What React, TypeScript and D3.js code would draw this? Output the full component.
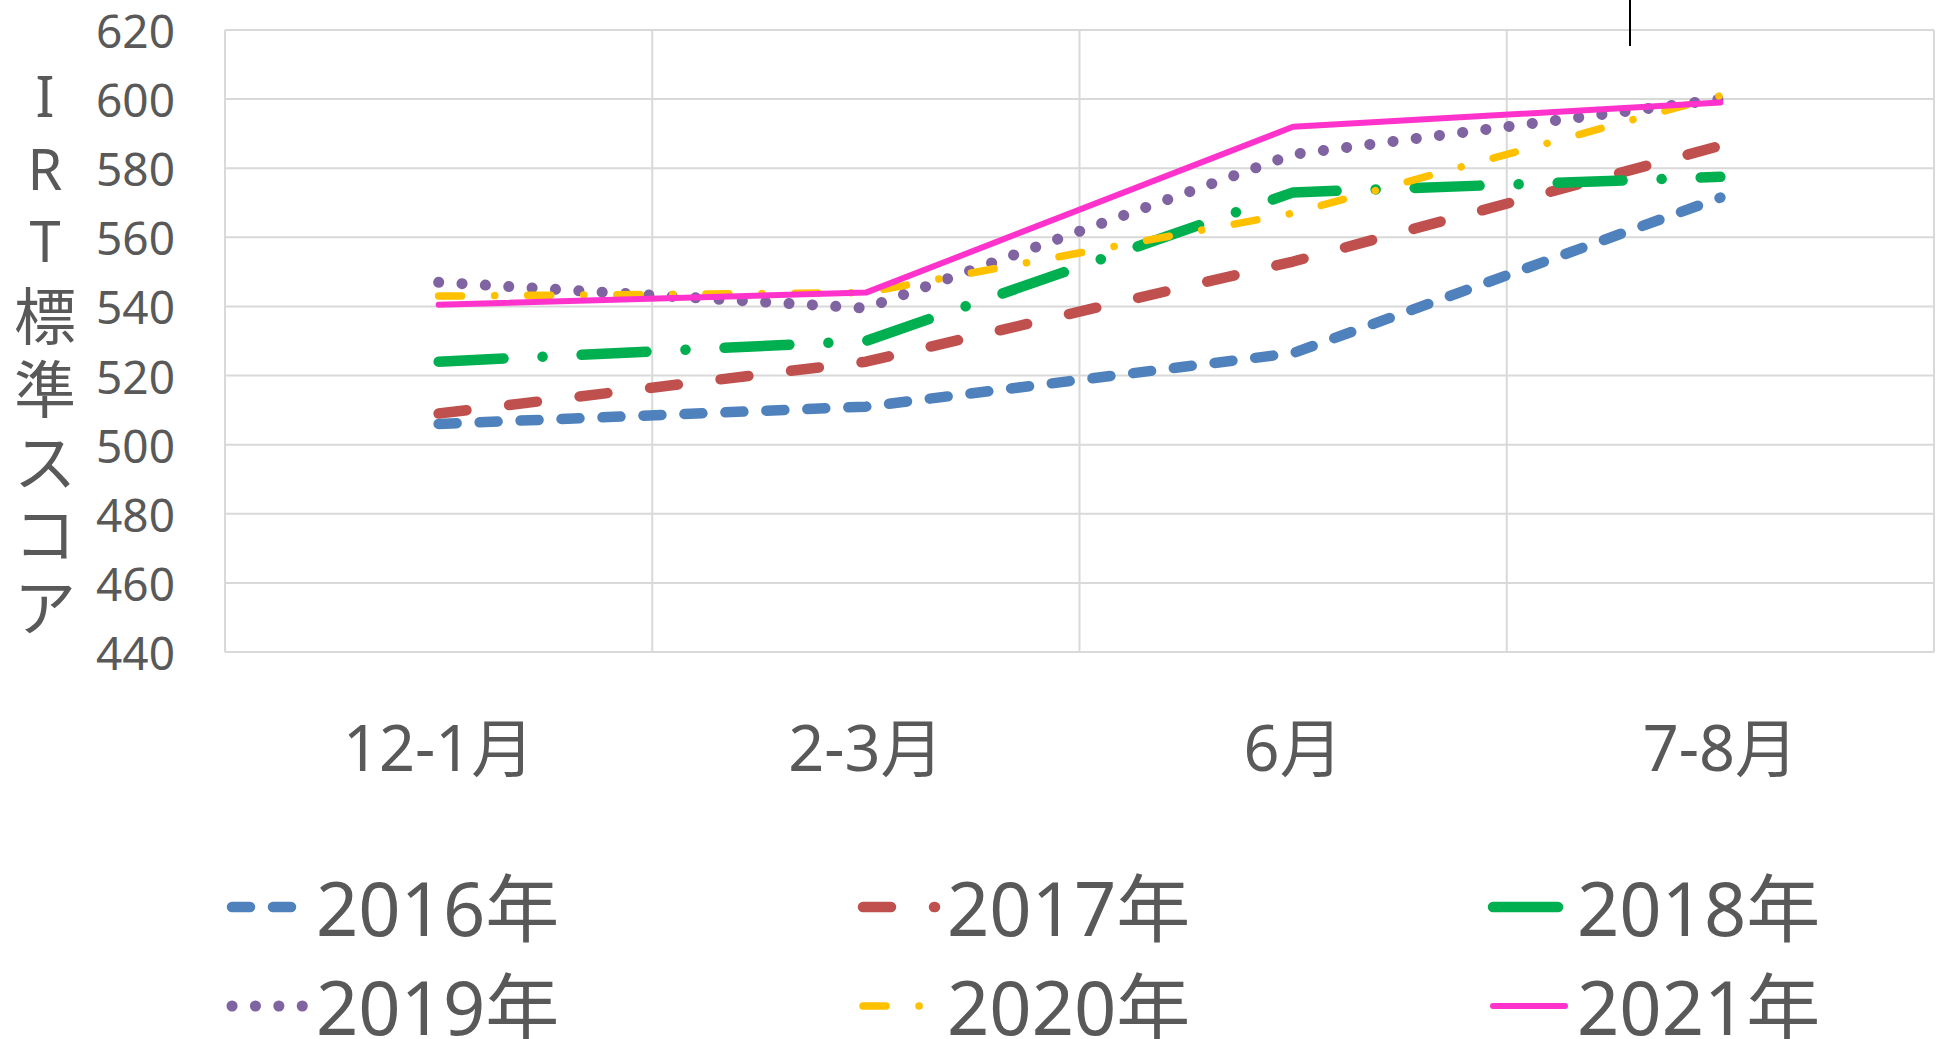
import React from 'react';
import * as d3 from 'd3';

const categories = ['12-1月', '2-3月', '6月', '7-8月'];
const years = ['2016年', '2017年', '2018年', '2019年', '2020年', '2021年'];
const s2016 = [506, 511, 526.5, 571.5];
const s2017 = [509, 524, 553, 586.5];
const s2018 = [524, 530, 573, 577.5];
const s2019 = [547, 539.5, 584, 600];
const s2020 = [543, 544, 567, 601];
const s2021 = [540.5, 544, 592, 599];
const yTicks = [440, 460, 480, 500, 520, 540, 560, 580, 600, 620];
const yTitleChars = ['I', 'R', 'T', '標', '準', 'ス', 'コ', 'ア'];

const seriesValues = [s2016, s2017, s2018, s2019, s2020, s2021];
const colors = ['#4F81BD', '#C0504D', '#00B050', '#8064A2', '#FFC000', '#FF33CC'];
const widths = [10.5, 10.5, 10.5, 11, 7.5, 6];
const dashes = ['18 23', '28 43', '65 39 0.1 39', '0.1 23.3', '23 33 0.1 33', undefined];

const W = 1941;
const H = 1039;
const FONT = "'Noto Sans', 'Noto Sans CJK JP', sans-serif";
const TEXT = '#595959';

export default function App() {
  const x = d3.scaleBand<string>().domain(categories).range([225, 1934]).padding(0);
  const y = d3.scaleLinear().domain([440, 620]).range([652, 30]);
  const cx = (c: string) => (x(c) as number) + x.bandwidth() / 2;
  const line = d3
    .line<number>()
    .x((_, i) => cx(categories[i]))
    .y((d) => y(d));

  const bandEdges = categories.map((c) => x(c) as number).concat([1934]);

  const legendCols = [226, 857, 1487];
  const legendRows = [907, 1006];

  return (
    <svg
      width={W}
      height={H}
      style={{ position: 'absolute', left: 0, top: 0, background: '#fff' }}
      fontFamily={FONT}
    >
      <rect x={0} y={0} width={W} height={H} fill="#fff" />
      {yTicks.map((t) => (
        <line key={'h' + t} x1={225} x2={1934} y1={y(t)} y2={y(t)} stroke="#D9D9D9" strokeWidth={2} />
      ))}
      {bandEdges.map((e, i) => (
        <line key={'v' + i} x1={e} x2={e} y1={y(620)} y2={y(440)} stroke="#D9D9D9" strokeWidth={2} />
      ))}
      {yTicks.map((t) => (
        <text
          key={'yt' + t}
          x={175}
          y={y(t)}
          textAnchor="end"
          dominantBaseline="central"
          fontSize={46}
          fill={TEXT}
        >
          {t}
        </text>
      ))}
      {yTitleChars.map((ch, i) => (
        <text
          key={'ytt' + i}
          x={45}
          y={95 + i * 72.7}
          textAnchor="middle"
          dominantBaseline="central"
          fontSize={i < 3 ? 56 : 62}
          fill={TEXT}
          fontFamily={i < 3 ? FONT : "'Noto Sans CJK JP', sans-serif"}
        >
          {ch}
        </text>
      ))}
      {categories.map((c) => (
        <text
          key={'xl' + c}
          x={cx(c)}
          y={746}
          textAnchor="middle"
          dominantBaseline="central"
          fontSize={63}
          fill={TEXT}
        >
          {c}
        </text>
      ))}
      {seriesValues.map((vals, i) => (
        <path
          key={'s' + i}
          d={line(vals) || ''}
          fill="none"
          stroke={colors[i]}
          strokeWidth={widths[i]}
          strokeDasharray={dashes[i]}
          strokeLinecap="round"
          strokeLinejoin="round"
        />
      ))}
      {years.map((yr, i) => {
        const col = i % 3;
        const row = Math.floor(i / 3);
        const lx = legendCols[col];
        const ly = legendRows[row];
        return (
          <g key={'lg' + i}>
            <line
              x1={lx + 6}
              x2={lx + 78}
              y1={ly}
              y2={ly}
              stroke={colors[i]}
              strokeWidth={widths[i]}
              strokeDasharray={dashes[i]}
              strokeLinecap="round"
            />
            <text x={lx + 90} y={ly} dominantBaseline="central" fontSize={74} fill={TEXT}>
              {yr}
            </text>
          </g>
        );
      })}
      <line x1={1630} x2={1630} y1={0} y2={46} stroke="#000" strokeWidth={2} />
    </svg>
  );
}
